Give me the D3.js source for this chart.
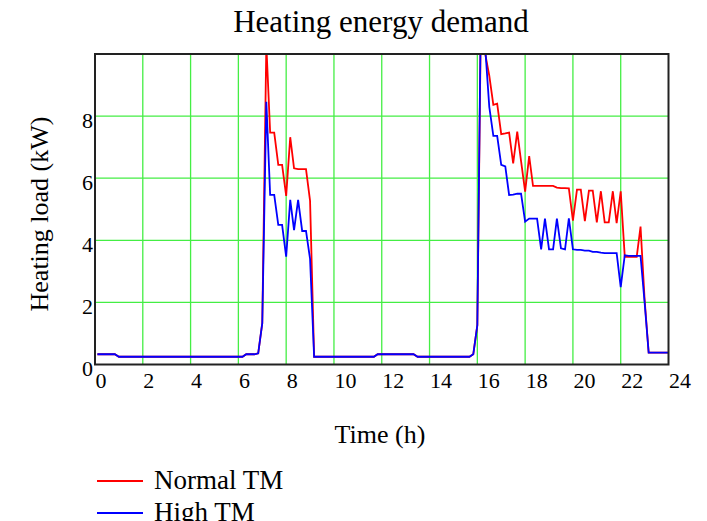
<!DOCTYPE html>
<html>
<head>
<meta charset="utf-8">
<script src="https://cdn.jsdelivr.net/npm/d3@7"></script>
<style>
  html, body { margin: 0; padding: 0; background: #fff; }
  svg { display: block; }
  text { font-family: "Liberation Serif", "Times New Roman", serif; fill: #000; }
</style>
</head>
<body>
<svg id="chart" width="707" height="521"></svg>
<script>
// ---- data (hours, kW) ----
const times = [0.1, 0.83, 1.0, 6.17, 6.33, 6.67, 6.83, 7.0, 7.17, 7.33, 7.5, 7.67, 7.83, 8.0, 8.17, 8.33, 8.5, 8.67, 8.83, 9.0, 9.17,
  11.67, 11.83, 13.33, 13.5, 15.67, 15.83, 16.0, 16.17, 16.33, 16.5, 16.67, 16.83, 17.0, 17.17, 17.33, 17.5, 17.67, 17.83,
  18.0, 18.17, 18.33, 18.5, 18.67, 18.83, 19.0, 19.17, 19.33, 19.5, 19.67, 19.83, 20.0, 20.17, 20.33, 20.5, 20.67, 20.83,
  21.0, 21.17, 21.33, 21.5, 21.67, 21.83, 22.0, 22.17, 22.33, 22.5, 22.67, 22.83, 23.0, 23.17, 24.0];
const normalTM = [0.33, 0.33, 0.25, 0.25, 0.33, 0.33, 0.36, 1.33, 10.3, 7.47, 7.47, 6.43, 6.43, 5.43, 7.32, 6.32, 6.29, 6.29, 6.29, 5.27, 0.25,
  0.25, 0.33, 0.33, 0.25, 0.25, 0.33, 1.27, 12.5, 10.0, 9.3, 8.36, 8.4, 7.42, 7.44, 7.47, 6.48, 7.5, 6.55,
  5.57, 6.71, 5.75, 5.75, 5.75, 5.75, 5.75, 5.75, 5.7, 5.68, 5.68, 5.67, 4.63, 5.63, 5.63, 4.62, 5.6, 5.6,
  4.58, 5.58, 4.58, 4.58, 5.58, 4.55, 5.58, 3.47, 3.47, 3.47, 3.47, 4.44, 2.1, 0.38, 0.38];
const highTM = [0.33, 0.33, 0.25, 0.25, 0.33, 0.33, 0.36, 1.33, 8.46, 5.46, 5.46, 4.5, 4.5, 3.47, 5.3, 4.33, 5.3, 4.3, 4.3, 3.4, 0.25,
  0.25, 0.33, 0.33, 0.25, 0.25, 0.33, 1.27, 13.0, 10.2, 8.3, 7.36, 7.36, 6.43, 6.38, 5.46, 5.47, 5.5, 5.5,
  4.6, 4.7, 4.7, 4.7, 3.71, 4.7, 3.71, 3.71, 4.7, 3.74, 3.71, 4.71, 3.71, 3.69, 3.69, 3.67, 3.67, 3.63,
  3.63, 3.6, 3.59, 3.59, 3.59, 3.59, 2.49, 3.52, 3.5, 3.5, 3.5, 3.5, 2.0, 0.38, 0.38];
const xTicks = [0, 2, 4, 6, 8, 10, 12, 14, 16, 18, 20, 22, 24];
const yTicks = [0, 2, 4, 6, 8];
const seriesNames = ["Normal TM", "High TM"];
const seriesColors = ["#ff0000", "#0000ff"];

// ---- layout ----
const svg = d3.select("#chart");
const pL = 95, pR = 668.5, pT = 54, pB = 364.5;
const x = d3.scaleLinear().domain([0, 24]).range([pL, pR]);
const y = d3.scaleLinear().domain([0, 10]).range([pB, pT]);

// grid
const grid = svg.append("g");
grid.selectAll("line.v").data(xTicks.filter(d => d > 0 && d < 24)).join("line")
  .attr("x1", d => x(d)).attr("x2", d => x(d)).attr("y1", pT).attr("y2", pB)
  .attr("stroke", "#44ee44").attr("stroke-width", 1.3);
grid.selectAll("line.h").data(yTicks.filter(d => d > 0)).join("line")
  .attr("x1", pL).attr("x2", pR).attr("y1", d => y(d)).attr("y2", d => y(d))
  .attr("stroke", "#44ee44").attr("stroke-width", 1.3);

// clip
svg.append("clipPath").attr("id", "clip").append("rect")
  .attr("x", pL).attr("y", pT).attr("width", pR - pL).attr("height", pB - pT);

const line = d3.line().x(d => x(d[0])).y(d => y(d[1]));
const series = [normalTM, highTM];
series.forEach((vals, i) => {
  svg.append("path")
    .attr("clip-path", "url(#clip)")
    .attr("d", line(times.map((t, k) => [t, vals[k]])))
    .attr("fill", "none").attr("stroke", seriesColors[i])
    .attr("stroke-width", 1.8).attr("stroke-linejoin", "miter");
});

// frame
svg.append("rect").attr("x", pL).attr("y", pT).attr("width", pR - pL).attr("height", pB - pT)
  .attr("fill", "none").attr("stroke", "#222").attr("stroke-width", 2);

// axes
const xAxis = svg.append("g").attr("transform", `translate(0,${pB})`)
  .call(d3.axisBottom(x).tickValues(xTicks).tickSize(0).tickPadding(0).tickFormat(d3.format("d")));
xAxis.select(".domain").remove();
xAxis.selectAll("text").attr("font-size", 22).attr("font-family", "Liberation Serif, serif")
  .attr("text-anchor", "start").attr("dy", null).attr("y", 23).attr("fill", "#000");

const yAxis = svg.append("g").attr("transform", `translate(${pL},0)`)
  .call(d3.axisLeft(y).tickValues(yTicks).tickSize(0).tickPadding(2).tickFormat(d3.format("d")));
yAxis.select(".domain").remove();
yAxis.selectAll("text").attr("font-size", 22).attr("font-family", "Liberation Serif, serif")
  .attr("dy", "0.5em").attr("fill", "#000");

// titles
svg.append("text").attr("x", 381).attr("y", 32).attr("text-anchor", "middle")
  .attr("font-size", 31).text("Heating energy demand");
svg.append("text").attr("x", 380).attr("y", 443).attr("text-anchor", "middle")
  .attr("font-size", 26).text("Time (h)");
svg.append("text").attr("transform", "translate(47.5,214) rotate(-90)").attr("text-anchor", "middle")
  .attr("font-size", 26).text("Heating load (kW)");

// legend
const legend = svg.append("g");
seriesNames.forEach((name, i) => {
  const ly = 481 + i * 32;
  legend.append("line").attr("x1", 97).attr("x2", 143).attr("y1", ly).attr("y2", ly)
    .attr("stroke", seriesColors[i]).attr("stroke-width", 1.8);
  legend.append("text").attr("x", 154).attr("y", ly + 8).attr("font-size", 27).text(name);
});
</script>
</body>
</html>
